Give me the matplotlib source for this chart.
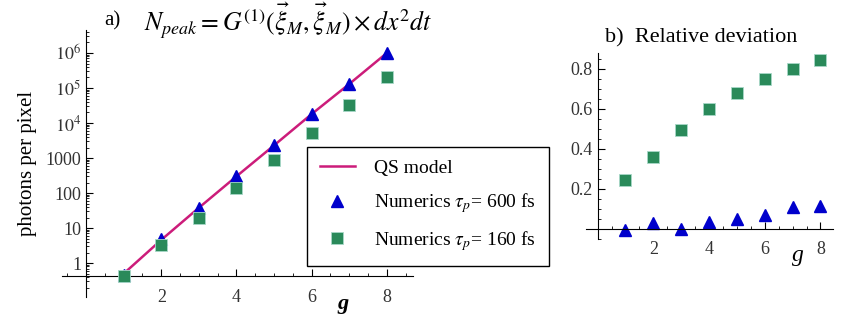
import numpy as np
import matplotlib
matplotlib.use("Agg")
import matplotlib.pyplot as plt
from matplotlib.ticker import FixedLocator, MultipleLocator, LogLocator, NullFormatter

plt.rcParams['font.family'] = ['Liberation Serif', 'DejaVu Serif']
plt.rcParams['mathtext.fontset'] = 'stix'

g = [1, 2, 3, 4, 5, 6, 7, 8]
qs_model = [0.5, 4.6, 38, 300, 2300, 18000, 1.3e5, 1.0e6]
num_600 = [0.45, 4.8, 38, 300, 2300, 18000, 1.3e5, 1.0e6]
num_160 = [0.42, 3.3, 20, 140, 880, 5200, 33000, 2.0e5]
dev_600 = [-0.005, 0.03, 0.0, 0.035, 0.05, 0.07, 0.11, 0.115]
dev_160 = [0.245, 0.36, 0.495, 0.6, 0.68, 0.75, 0.80, 0.845]

log_ticks = [1, 10, 100, 1000, 1e4, 1e5, 1e6]
log_labels = ['1', '10', '100', '1000', '$10^4$', '$10^5$', '$10^6$']

line_c = '#cc1c7a'
blue = '#0000cc'
green = '#2a8a5a'
tick_c = '#333333'

fig = plt.figure(figsize=(8.5, 3.25), dpi=100)

# panel a
ax = fig.add_axes([0.073, 0.086, 0.413, 0.822])
ax.set_yscale('log')
ax.set_xlim(-0.64, 8.7)
ax.set_ylim(10**-0.97, 10**6.66)
ax.plot(g, qs_model, color=line_c, lw=1.8, label='QS model', zorder=2)
ax.plot(g, num_600, '^', color=blue, ms=9, ls='none', label=r'Numerics $\tau_p$= 600 fs', zorder=3)
ax.plot(g, num_160, 's', color=green, mec='#a8d8c8', mew=0.6, ms=8.5, ls='none',
        label=r'Numerics $\tau_p$= 160 fs', zorder=3)

for s in ['top', 'right']:
    ax.spines[s].set_visible(False)
ax.spines['left'].set_position(('data', 0))
ax.spines['bottom'].set_position(('data', 10**-0.37))
ax.xaxis.set_major_locator(FixedLocator([2, 4, 6, 8]))
ax.xaxis.set_minor_locator(MultipleLocator(0.5))
ax.yaxis.set_major_locator(FixedLocator(log_ticks))
ax.set_yticklabels(log_labels)
ax.yaxis.set_minor_locator(LogLocator(base=10, subs=np.arange(2, 10)))
ax.yaxis.set_minor_formatter(NullFormatter())
ax.tick_params(which='major', direction='in', length=5, labelsize=13, colors='black', labelcolor=tick_c)
ax.tick_params(which='minor', direction='in', length=2.5)
ax.tick_params(axis='x', pad=9)
ax.set_ylabel('photons per pixel', fontsize=15, labelpad=2)
ax.yaxis.set_label_coords(-0.072, 0.5)
ax.text(0.80, -0.025, 'g', transform=ax.transAxes, fontsize=16, fontweight='bold',
        style='italic', ha='center', va='center')

leg = ax.legend(loc='upper left', bbox_to_anchor=(0.698, 0.562), borderaxespad=0,
                fontsize=14, frameon=True, fancybox=False, edgecolor='black',
                framealpha=1, borderpad=0.65, labelspacing=0.72, handlelength=1.8,
                handletextpad=1.0)
leg.get_frame().set_linewidth(1.0)
leg.set_zorder(5)

fig.text(0.123, 0.935, 'a)', fontsize=15, ha='left', va='center')
fig.text(0.17, 0.935, r'$N_{peak} = G^{(1)}(\vec{\xi}_M,\vec{\xi}_M)\times dx^2dt$',
         fontsize=18.5, ha='left', va='center')

# panel b
bx = fig.add_axes([0.689, 0.265, 0.291, 0.572])
bx.set_xlim(-0.43, 8.45)
bx.set_ylim(-0.05, 0.88)
bx.plot(g, dev_160, 's', color=green, mec='#a8d8c8', mew=0.6, ms=8, ls='none')
bx.plot(g, dev_600, '^', color=blue, ms=8.5, ls='none')
for s in ['top', 'right']:
    bx.spines[s].set_visible(False)
bx.spines['left'].set_position(('data', 0))
bx.spines['bottom'].set_position(('data', 0))
bx.xaxis.set_major_locator(FixedLocator([2, 4, 6, 8]))
bx.xaxis.set_minor_locator(MultipleLocator(0.5))
bx.yaxis.set_major_locator(FixedLocator([0.2, 0.4, 0.6, 0.8]))
bx.yaxis.set_minor_locator(MultipleLocator(0.05))
bx.tick_params(which='major', direction='in', length=5, labelsize=13, labelcolor=tick_c)
bx.tick_params(which='minor', direction='in', length=2.5)
bx.tick_params(axis='x', pad=9)
bx.text(0.86, -0.09, 'g', transform=bx.transAxes, fontsize=17, style='italic',
        ha='center', va='center')
fig.text(0.712, 0.885, 'b)  Relative deviation', fontsize=16, ha='left', va='center')

fig.savefig('out.png', dpi=100)
